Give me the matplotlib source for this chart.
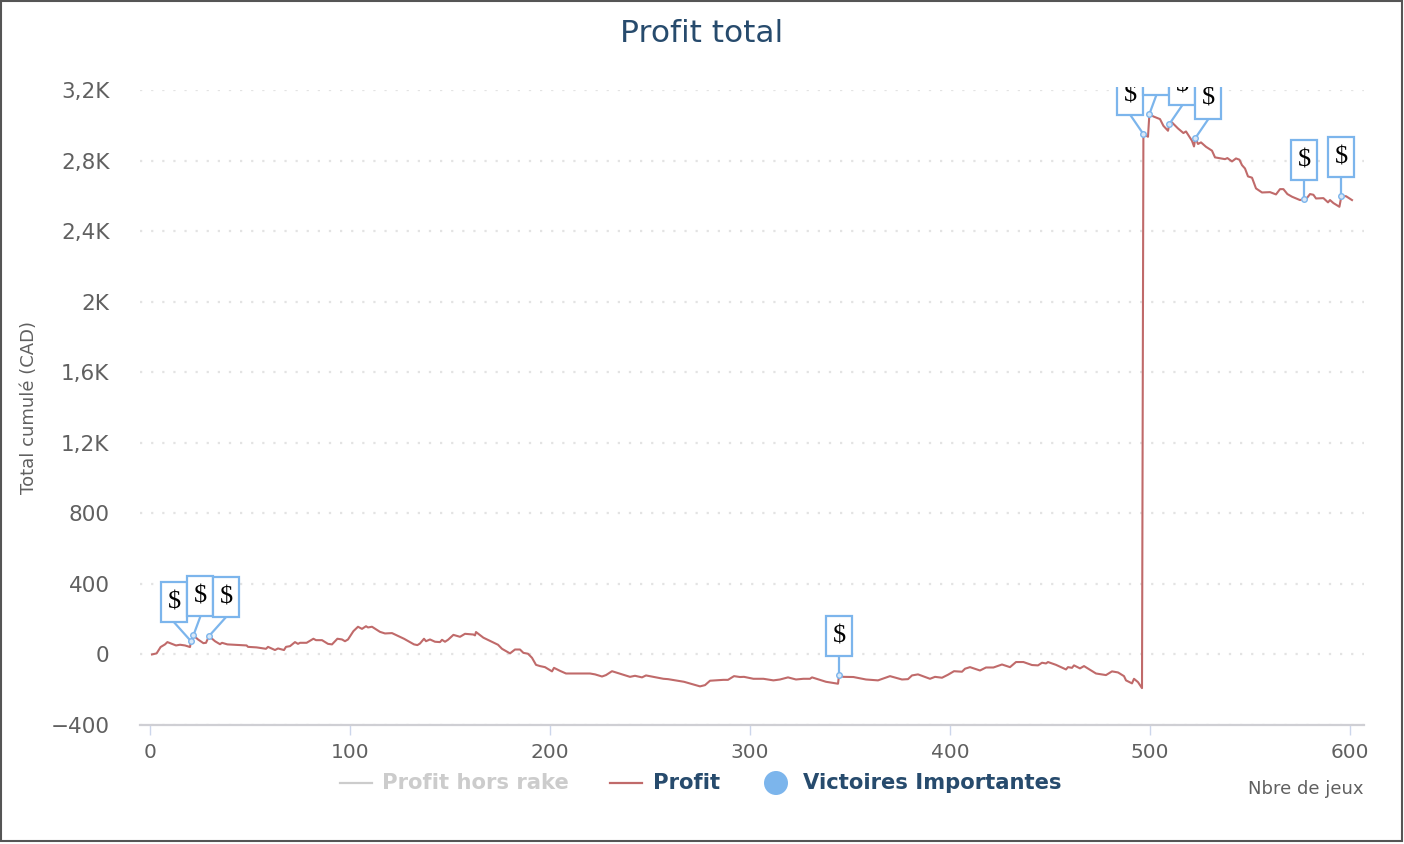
#!/usr/bin/env python3
# -*- coding: utf-8 -*-
import matplotlib
matplotlib.use('Agg')
import matplotlib.pyplot as plt
from matplotlib.patches import Rectangle, Ellipse
from matplotlib.lines import Line2D
from matplotlib.transforms import Bbox, IdentityTransform

W, H = 1404, 844

games = [1, 3.3, 5.3, 7.5, 8.7, 11, 13, 15, 17.5, 20, 20.5, 21.7, 24, 26.7, 28, 29.5, 32.5, 35, 36, 38.7,
         45, 48.3, 49, 53.3, 58, 59, 62.5, 64, 67, 68, 70, 72.5, 74, 75, 78.3, 81.7, 83, 86, 89, 91,
         93.7, 96, 97.5, 99, 101.7, 104, 106, 108, 109, 111, 115, 117.5, 121, 127, 132, 133.7, 135, 137, 138, 140,
         142.5, 145, 146, 147.5, 149, 151.7, 155, 157.5, 161.7, 162.5, 163, 166.7, 174, 176, 180, 182.5, 185, 186.7, 189, 191,
         193, 195, 197.5, 201, 202, 205, 208, 220, 222.5, 226, 228, 231, 240, 242.5, 246, 248, 256.7, 259, 267, 275,
         277.5, 280, 286.7, 289, 292, 295, 297, 301.7, 306.7, 311.7, 315, 319, 323, 326.7, 330, 331, 338, 344, 344.5, 346.7,
         351.7, 358, 364, 370, 376, 379, 381, 384, 390, 392.5, 396, 399, 402, 406, 407.5, 410, 415, 418, 421.7, 426,
         430, 433, 436.7, 441, 444, 446, 448, 449, 453, 458, 459, 461, 462, 465, 467, 470, 473, 478, 481, 484,
         487, 488, 491, 492, 494, 496, 496.7, 499, 499.7, 501.7, 505, 506.7, 509, 509.7, 511, 514, 516.7, 518, 521, 522,
         522.7, 524, 525.5, 528, 531, 532.5, 537.5, 538.7, 541, 543, 544.7, 546, 547.5, 549, 551, 553, 556, 560, 563, 565,
         566.7, 568.7, 571, 575, 577, 578.3, 580, 581.7, 583, 586.7, 589, 590, 591.7, 594.7, 595.7, 598, 601]
profit = [0, 6, 42, 57, 70, 60, 51, 55, 51, 42, 75, 108, 85, 64, 66, 104, 75, 58, 66, 57,
          53, 51, 43, 40, 32, 43, 25, 34, 25, 43, 47, 70, 60, 66, 66, 89, 81, 81, 60, 57,
          89, 85, 75, 85, 132, 157, 145, 160, 153, 157, 128, 119, 121, 89, 57, 53, 62, 89, 75, 85,
          72, 70, 83, 72, 83, 111, 100, 117, 113, 108, 127, 95, 55, 32, 6, 28, 28, 9, 4, -19,
          -59, -66, -72, -96, -76, -93, -108, -108, -113, -125, -117, -95, -127, -121, -130, -119, -138, -140, -155, -181,
          -174, -149, -144, -144, -123, -128, -127, -138, -138, -147, -142, -130, -142, -138, -138, -130, -155, -166, -119, -127,
          -128, -142, -147, -123, -142, -140, -119, -113, -138, -127, -132, -115, -95, -98, -81, -72, -91, -74, -74, -57,
          -72, -43, -43, -60, -62, -47, -51, -43, -59, -85, -72, -76, -62, -79, -66, -87, -108, -117, -96, -102,
          -123, -147, -164, -138, -157, -191, 2950, 2935, 3064, 3050, 3035, 2997, 2969, 3007, 3016, 2982, 2956, 2965, 2912, 2880,
          2928, 2894, 2903, 2878, 2856, 2818, 2808, 2814, 2795, 2812, 2805, 2774, 2755, 2710, 2703, 2642, 2619, 2621, 2608, 2638,
          2638, 2610, 2595, 2576, 2582, 2585, 2610, 2606, 2585, 2587, 2563, 2576, 2559, 2538, 2598, 2598, 2576]

win_x = [20.5, 21.7, 29.5, 344.5, 496.7, 499.7, 509.7, 522.7, 577, 595.7]
win_y = [75, 108, 104, -119, 2950, 3064, 3007, 2928, 2582, 2598]
# decalage horizontal des drapeaux (px)
flag_dx = [-17, 7, 17, 0, -13, 7, 13, 13, 0, 0]

x_ticks = [0, 100, 200, 300, 400, 500, 600]
y_ticks = [-400, 0, 400, 800, 1200, 1600, 2000, 2400, 2800, 3200]
y_labels = ['\u2212400', '0', '400', '800', '1,2K', '1,6K', '2K', '2,4K', '2,8K', '3,2K']

BLUE = '#7cb5ec'
RED = '#c06a6a'
NAVY = '#274b6d'
GREY = '#606060'

plt.rcParams['font.family'] = ['DejaVu Sans']
fig = plt.figure(figsize=(W / 100, H / 100), dpi=100)
fig.patch.set_facecolor('white')
fig.add_artist(Rectangle((0.5, 3), W - 3, H - 4, transform=IdentityTransform(),
                         fill=False, edgecolor='#555555', linewidth=1.5))

ax = fig.add_axes([140 / W, (H - 725) / H, (1364 - 140) / W, (725 - 90) / H])
ax.set_xlim(-5, 607)
ax.set_ylim(-400, 3200)
ax.set_facecolor('none')
for s in ['top', 'left', 'right']:
    ax.spines[s].set_visible(False)
ax.spines['bottom'].set_color('#cfcfd4')
ax.spines['bottom'].set_linewidth(1.6)

ax.set_xticks(x_ticks)
ax.set_yticks(y_ticks)
ax.set_yticklabels(y_labels)
ax.tick_params(axis='x', length=7, width=1, color='#ccd6eb', labelsize=14.5, labelcolor=GREY, pad=6)
ax.tick_params(axis='y', length=0, labelsize=15.5, labelcolor=GREY, pad=22)
ax.grid(axis='y', color='#e3e3e3', linestyle=(0, (1, 4)), linewidth=1.6)
ax.set_axisbelow(True)

ax.plot(games, profit, color=RED, linewidth=1.5, solid_joinstyle='round', zorder=2)

# drapeaux, coupes un peu au-dessus du haut du trace
clip = Bbox([[140, 0], [1364, H - 87]])
for i in range(len(win_x)):
    px, py = ax.transData.transform((win_x[i], win_y[i]))
    cx = px + flag_dx[i]
    bottom = py + 19
    stem = Line2D([px, cx], [py, bottom], color=BLUE, linewidth=1.6,
                  transform=IdentityTransform(), zorder=3 + i)
    box = Rectangle((cx - 13, bottom), 26, 40, transform=IdentityTransform(),
                    facecolor='white', edgecolor=BLUE, linewidth=1.6, zorder=3 + i)
    dollar = ax.text(cx, bottom + 20, r'\$', transform=IdentityTransform(), ha='center', va='center',
                     fontsize=19, family='Liberation Serif', color='black', zorder=3 + i)
    dot = Line2D([px], [py], marker='o', markersize=4, markerfacecolor='#d8e8f8',
                 markeredgecolor=BLUE, markeredgewidth=1, transform=IdentityTransform(), zorder=3 + i)
    for a in [stem, box, dollar, dot]:
        ax.add_artist(a)
        a.set_clip_box(clip)
        a.set_clip_on(True)

fig.text(702 / W, 1 - 33 / H, 'Profit total', color=NAVY, fontsize=22.5, ha='center', va='center')
fig.text(29 / W, 1 - 407 / H, 'Total cumulé (CAD)', color=GREY, fontsize=13, rotation=90,
         ha='center', va='center')
fig.text(1364 / W, 1 - 789 / H, 'Nbre de jeux', color=GREY, fontsize=13, ha='right', va='center')

# legende
fig.add_artist(Line2D([340, 372], [H - 783, H - 783], color='#cccccc', linewidth=1.6, transform=IdentityTransform()))
fig.text(382 / W, 1 - 783 / H, 'Profit hors rake', color='#cccccc', fontsize=15.2, fontweight='bold', va='center')
fig.add_artist(Line2D([610, 642], [H - 783, H - 783], color=RED, linewidth=1.6, transform=IdentityTransform()))
fig.text(653 / W, 1 - 783 / H, 'Profit', color=NAVY, fontsize=15.2, fontweight='bold', va='center')
fig.add_artist(Ellipse((776, H - 783), 24, 24, facecolor=BLUE, edgecolor='none', transform=IdentityTransform()))
fig.text(803 / W, 1 - 783 / H, 'Victoires Importantes', color=NAVY, fontsize=15.2, fontweight='bold', va='center')

fig.savefig('out.png', dpi=100)
